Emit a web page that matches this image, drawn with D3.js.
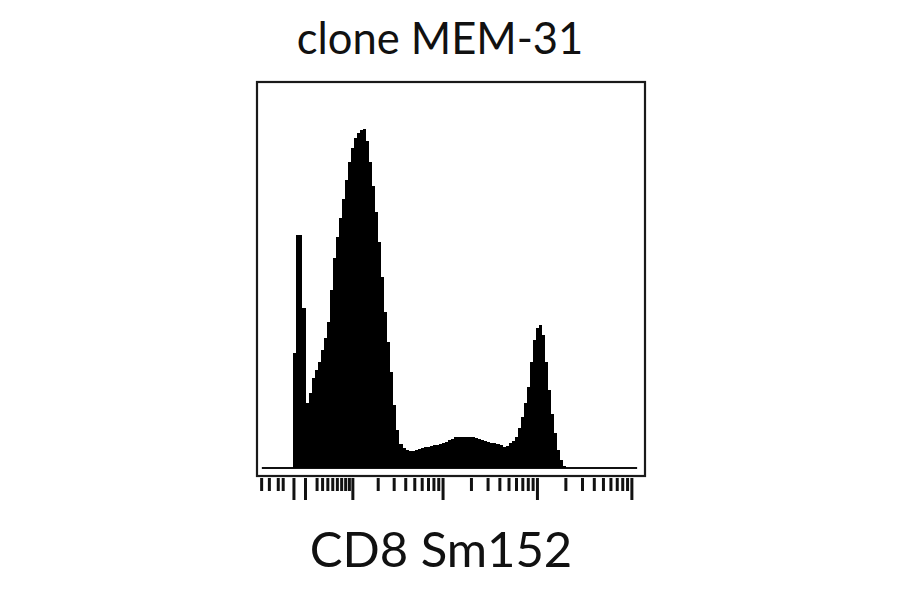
<!DOCTYPE html>
<html>
<head>
<meta charset="utf-8">
<script src="https://cdn.jsdelivr.net/npm/d3@7"></script>
<style>
  html, body { margin: 0; padding: 0; background: #fff; }
  svg { display: block; }
</style>
</head>
<body>
<svg id="chart" width="900" height="594"></svg>
<script>
// ---------------- data ----------------
const title = "clone MEM-31";
const xLabel = "CD8 Sm152";

// histogram: event counts per channel bin (bins 0..127, arcsinh-scaled channel)
const firstBin = 12;
const binCounts = [
  230, 466, 466, 320, 130, 150, 180, 196, 212, 236,   // bins 12-21
  260, 292, 356, 420, 462, 500, 538, 576, 612, 640,   // 22-31
  660, 670, 676, 678, 654, 612, 564, 512, 452, 382,   // 32-41
  312, 252, 192, 126, 76, 48, 40, 36, 34, 34,         // 42-51
  36, 38, 40, 42, 42, 44, 46, 46, 48, 50,             // 52-61
  52, 56, 58, 62, 62, 62, 62, 62, 62, 62,             // 62-71
  60, 58, 56, 54, 52, 50, 50, 48, 46, 42,             // 72-81
  44, 50, 54, 62, 80, 102, 130, 162, 212, 256,        // 82-91
  280, 286, 266, 212, 156, 108, 70, 36, 16, 4         // 92-101
];
const nBins = 128;
const countMax = 772;

// axis ticks (intensity values, arcsinh cofactor 7)
const cofactor = 7;
const majorTicks = [-2, 0, 10, 100, 1000, 10000];
const minorTicks = [-9, -7, -5, -4,
  2, 3, 4, 5, 6, 7, 8, 9,
  20, 30, 40, 50, 60, 70, 80, 90,
  200, 300, 400, 500, 600, 700, 800, 900,
  2000, 3000, 4000, 5000, 6000, 7000, 8000, 9000];
// channel = zeroChannel + channelsPerUnit * asinh(value / cofactor)
const zeroChannel = 15.84;
const channelsPerUnit = 13.53;

// ---------------- layout ----------------
const frame = { left: 257, right: 645, top: 82, bottom: 476 };
const baseY = 468;

const svg = d3.select("#chart");

const x = d3.scaleLinear().domain([0, nBins]).range([frame.left, frame.right]);
const y = d3.scaleLinear().domain([0, countMax]).range([baseY, frame.top]);
const toChannel = v => zeroChannel + channelsPerUnit * Math.asinh(v / cofactor);

// frame
svg.append("rect")
  .attr("x", frame.left).attr("y", frame.top)
  .attr("width", frame.right - frame.left)
  .attr("height", frame.bottom - frame.top)
  .attr("fill", "none")
  .attr("stroke", "#1a1a1a")
  .attr("stroke-width", 2.2);

// baseline
svg.append("line")
  .attr("x1", x(1.6)).attr("x2", x(125.4))
  .attr("y1", baseY).attr("y2", baseY)
  .attr("stroke", "#111")
  .attr("stroke-width", 2);

// histogram
const pts = binCounts.map((c, i) => ({ bin: firstBin + i, c }));
pts.push({ bin: firstBin + binCounts.length, c: 0 });
const area = d3.area()
  .x(d => Math.round(x(d.bin)))
  .y0(y(0))
  .y1(d => Math.round(y(d.c)))
  .curve(d3.curveStepAfter);
svg.append("path")
  .datum(pts)
  .attr("d", area)
  .attr("fill", "#000")
  .attr("shape-rendering", "crispEdges");

// ticks
const tickScale = d3.scaleLinear().domain([0, nBins]).range([frame.left, frame.right]);
const axisG = svg.append("g").attr("transform", `translate(0,${frame.bottom + 2})`);
const minorAxis = d3.axisBottom(tickScale)
  .tickValues(minorTicks.map(toChannel))
  .tickSize(13).tickFormat("");
const majorAxis = d3.axisBottom(tickScale)
  .tickValues(majorTicks.map(toChannel))
  .tickSize(22).tickFormat("");
[minorAxis, majorAxis].forEach(ax => {
  const g = axisG.append("g").call(ax);
  g.select(".domain").remove();
  g.selectAll(".tick line").attr("stroke", "#111").attr("stroke-width", 3);
});

// texts
svg.append("text")
  .attr("x", 440).attr("y", 54)
  .attr("text-anchor", "middle")
  .attr("font-family", "Lato, 'Open Sans', sans-serif")
  .attr("font-size", 43.5)
  .attr("fill", "#111")
  .text(title);

svg.append("text")
  .attr("x", 441).attr("y", 567)
  .attr("text-anchor", "middle")
  .attr("font-family", "Lato, 'Open Sans', sans-serif")
  .attr("font-size", 49)
  .attr("fill", "#111")
  .text(xLabel);
</script>
</body>
</html>
